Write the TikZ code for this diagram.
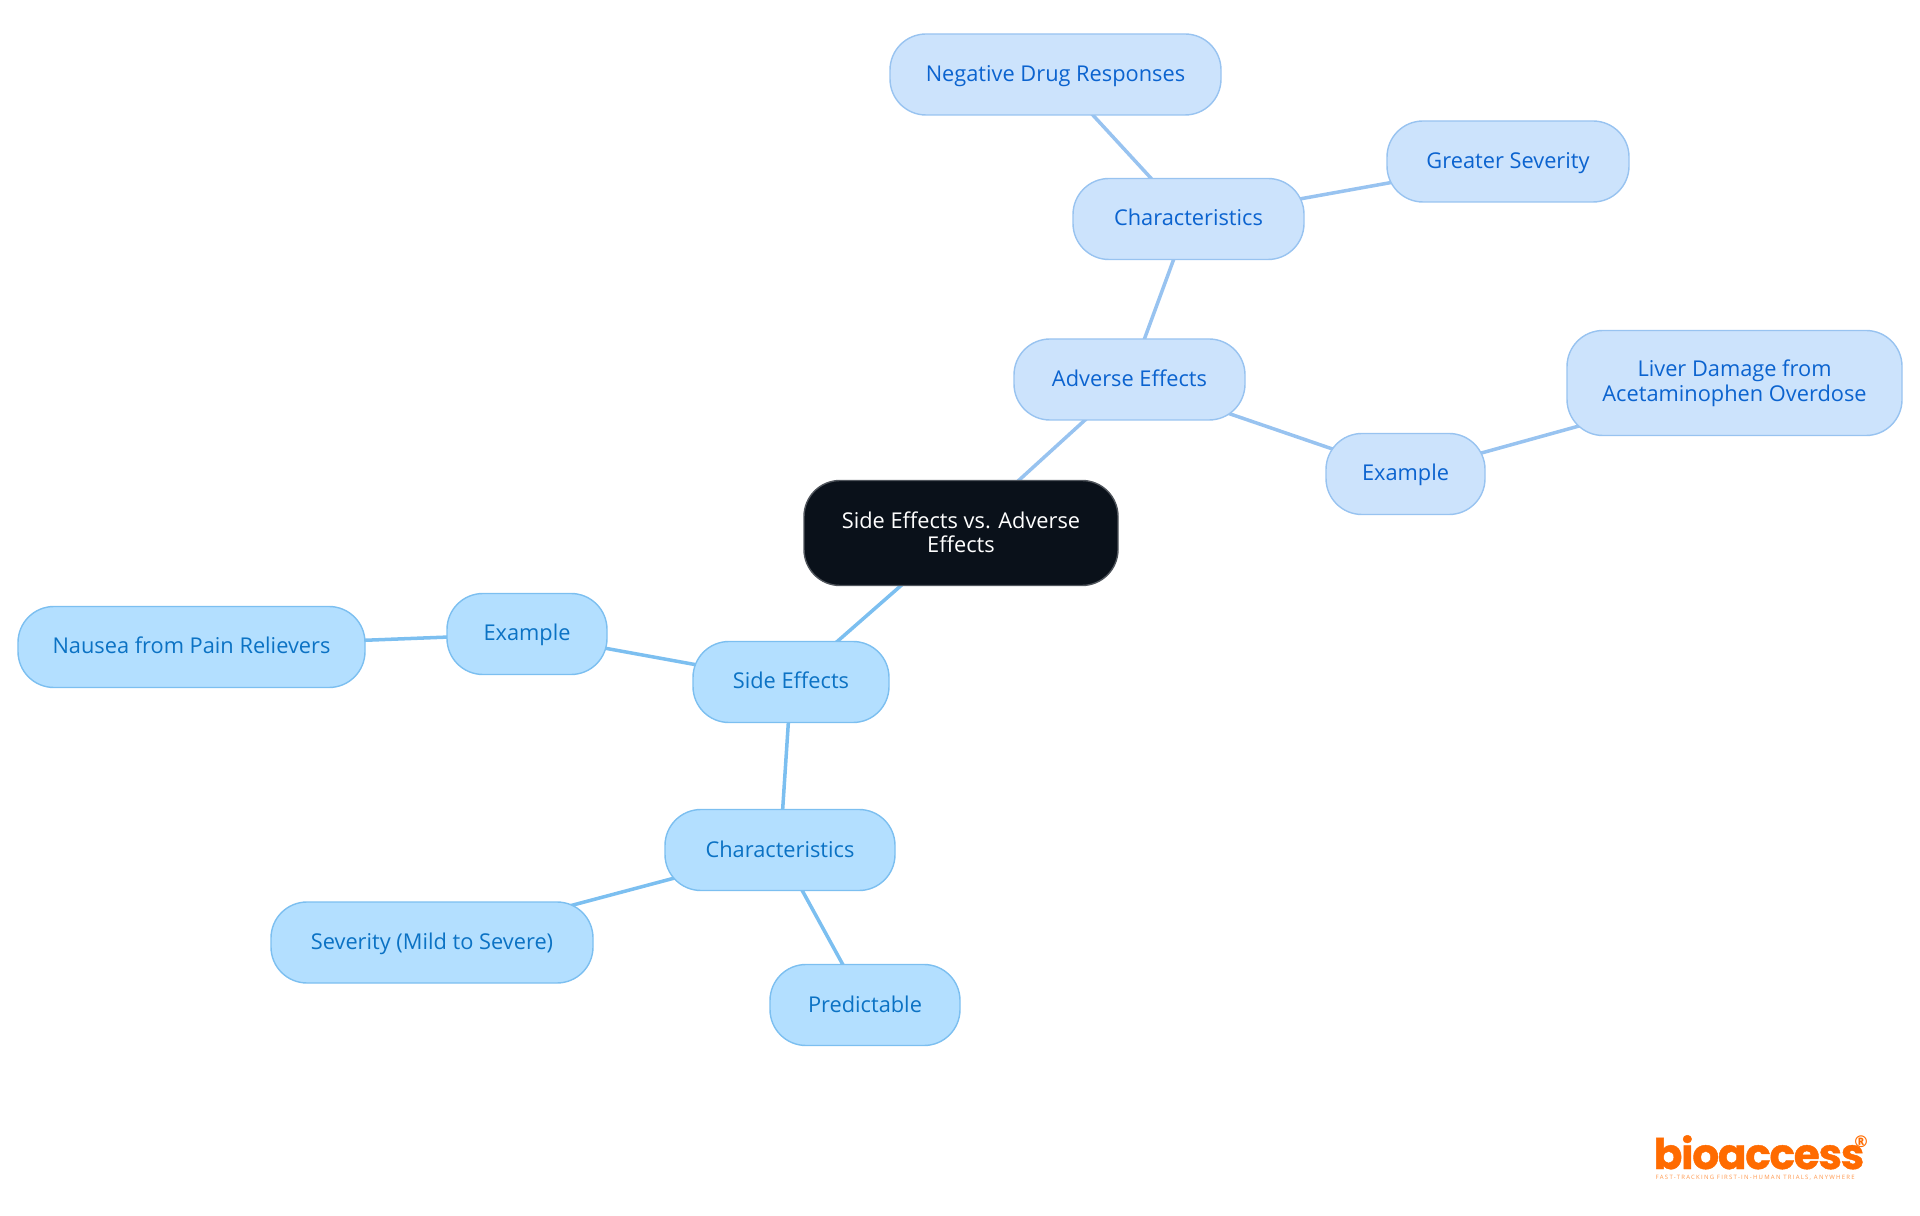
\documentclass[tikz,border=0pt]{standalone}
\usepackage{fontspec}
\setmainfont{Open Sans}
\newfontfamily\logofont{Poppins}[BoldFeatures={FakeBold=1}]
\usetikzlibrary{backgrounds}
\definecolor{rootfill}{HTML}{0A111A}
\definecolor{rootline}{HTML}{50555C}
\definecolor{sidefill}{HTML}{B3DFFF}
\definecolor{sideline}{HTML}{7CBFF0}
\definecolor{sidetext}{HTML}{0B72C4}
\definecolor{advfill}{HTML}{CCE3FC}
\definecolor{advline}{HTML}{98C3F0}
\definecolor{advtext}{HTML}{0B63CF}
\definecolor{logoorange}{HTML}{FF6B00}
\tikzset{
  mapnode/.style={rounded corners=0.36cm, line width=0.4pt, inner sep=0pt, align=center,
    minimum height=0.81cm, text height=0.19cm, text depth=0.05cm, font=\fontsize{6.2}{7}\selectfont},
  twolines/.style={minimum height=1.05cm, text height={}, text depth={}},
  rootnode/.style={mapnode, twolines, text depth=0.02cm, draw=rootline, fill=rootfill, text=white},
  sidenode/.style={mapnode, draw=sideline, fill=sidefill, text=sidetext},
  advnode/.style={mapnode, draw=advline, fill=advfill, text=advtext},
  sideedge/.style={draw=sideline, line width=1pt},
  advedge/.style={draw=advline, line width=1pt},
}
\begin{document}
\begin{tikzpicture}
  \useasboundingbox (0, 0) rectangle (19.2, 12.15);
  \node[rootnode, minimum width=3.14cm] (root) at (9.61, 6.82) {Side Effects vs. Adverse\\Effects};
  % adverse branch
  \node[advnode, minimum width=2.31cm] (adverse) at (11.295, 8.355) {Adverse Effects};
  \node[advnode, minimum width=2.31cm] (advchar) at (11.885, 9.96) {Characteristics};
  \node[advnode, minimum width=3.31cm] (negative) at (10.555, 11.405) {Negative Drug Responses};
  \node[advnode, minimum width=2.42cm] (greater) at (15.08, 10.535) {Greater Severity};
  \node[advnode, minimum width=1.59cm] (advexample) at (14.055, 7.41) {Example};
  \node[advnode, twolines, minimum width=3.35cm] (liver) at (17.345, 8.32) {Liver Damage from\\Acetaminophen Overdose};
  % side branch
  \node[sidenode, minimum width=1.96cm] (side) at (7.91, 5.33) {Side Effects};
  \node[sidenode, minimum width=1.6cm] (sideexample) at (5.27, 5.81) {Example};
  \node[sidenode, minimum width=3.47cm] (nausea) at (1.915, 5.68) {Nausea from Pain Relievers};
  \node[sidenode, minimum width=2.3cm] (sidechar) at (7.8, 3.65) {Characteristics};
  \node[sidenode, minimum width=3.22cm] (severity) at (4.32, 2.725) {Severity (Mild to Severe)};
  \node[sidenode, minimum width=1.9cm] (predictable) at (8.65, 2.1) {Predictable};
  % logo
  \node[text=logoorange, inner sep=0pt, anchor=base west, font=\logofont\bfseries\fontsize{12}{12}\selectfont] (logo) at (16.53, 0.46) {\addfontfeatures{LetterSpace=-3}bioaccess};
  \node[text=logoorange, inner sep=0pt, font=\bfseries\fontsize{4.6}{4.6}\selectfont] (reg) at (18.61, 0.73) {\textregistered};
  \node[text=logoorange!70, inner sep=0pt, anchor=base west, font=\fontsize{1.7}{2}\selectfont] (tagline) at (16.55, 0.36) {\addfontfeatures{LetterSpace=21}FAST-TRACKING FIRST-IN-HUMAN TRIALS, ANYWHERE};
  \begin{scope}[on background layer]
    \foreach \a/\b in {root/adverse, adverse/advchar, advchar/negative, advchar/greater, adverse/advexample, advexample/liver}
    \draw[advedge] (\a.center) -- (\b.center);
    \foreach \a/\b in {root/side, side/sideexample, sideexample/nausea, side/sidechar, sidechar/severity, sidechar/predictable}
    \draw[sideedge] (\a.center) -- (\b.center);
  \end{scope}
\end{tikzpicture}
\end{document}
